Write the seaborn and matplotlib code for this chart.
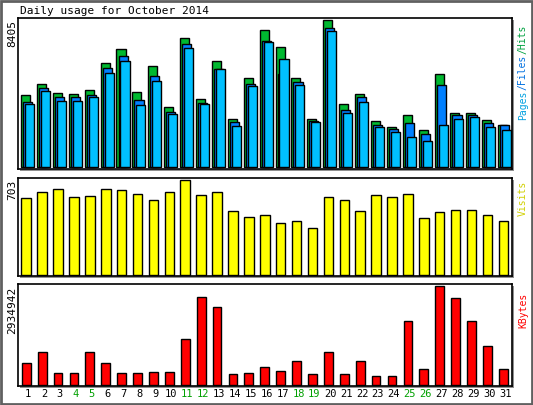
import numpy as np
import pandas as pd
import seaborn as sns
import matplotlib
matplotlib.use("Agg")
import matplotlib.pyplot as plt

days = list(range(1, 32))
hits = [4117, 4746, 4231, 4174, 4403, 5946, 6747, 4288, 5775, 3431, 7376, 3888, 6061, 2745, 5089,
        7833, 6861, 5089, 2745, 8405, 3602, 4174, 2630, 2287, 2973, 2116, 5318, 3088, 3088, 2688, 2402]
files = [3717, 4517, 4003, 4003, 4117, 5661, 6347, 3831, 5203, 3145, 7033, 3659, 5604, 2573, 4746,
         7205, 5318, 4860, 2630, 7948, 3259, 4003, 2402, 2173, 2516, 1887, 4689, 2973, 2973, 2516, 2402]
pages = [3602, 4346, 3774, 3774, 4003, 5375, 6061, 3545, 4917, 3030, 6804, 3602, 5604, 2344, 4632,
         7147, 6175, 4689, 2573, 7776, 3088, 3717, 2287, 2001, 1716, 1487, 2402, 2745, 2859, 2287, 2116]
visits = [565, 611, 634, 573, 581, 634, 627, 596, 550, 611, 703, 588, 611, 474, 428, 443, 382, 397,
          344, 573, 550, 474, 588, 573, 596, 420, 466, 481, 481, 443, 397]
kbytes = [648775, 957700, 339830, 339830, 957700, 648775, 339830, 339830, 370730, 370730, 1359340,
          2595100, 2317050, 308940, 339830, 525200, 401620, 710560, 308940, 957700, 308940, 710560,
          247150, 247150, 1884530, 463410, 2934942, 2564200, 1884530, 1143080, 463410]
weekend_days = [4, 5, 11, 12, 18, 19, 25, 26]

plt.rcParams['font.family'] = ['DejaVu Sans Mono']
fig = plt.figure(figsize=(5.33, 4.05), dpi=100)
fig.patch.set_facecolor('white')

# outer frame
fig.add_artist(plt.Rectangle((0.002, 0.002), 0.996, 0.996, transform=fig.transFigure,
                             fill=False, lw=2, ec='#606060'))

def panel(rect):
    # shadow
    fig.add_artist(plt.Rectangle((rect[0] + 0.004, rect[1] - 0.006), rect[2], rect[3],
                                 transform=fig.transFigure, fc='#909090', ec='none', zorder=0))
    ax = fig.add_axes(rect)
    ax.set_facecolor('white')
    for s in ax.spines.values():
        s.set_linewidth(1.2)
        s.set_color('black')
    ax.set_xticks([]); ax.set_yticks([])
    ax.set_xlabel(''); ax.set_ylabel('')
    return ax

xl = (0.37, 31.44)
df = pd.DataFrame({'day': days, 'hits': hits, 'files': files, 'pages': pages,
                   'visits': visits, 'kbytes': kbytes})

ax1 = panel([0.034, 0.583, 0.927, 0.373])
for col, off, c in [('hits', -0.16, '#00b830'), ('files', -0.03, '#0080ff'), ('pages', 0.09, '#00c0ff')]:
    sns.barplot(x=df['day'] + off, y=df[col], native_scale=True, width=0.57, color=c,
                saturation=1, edgecolor='black', linewidth=1, ax=ax1)
ax1.set_xlim(*xl); ax1.set_ylim(-120, 8405 * 1.015)
ax1.set_xticks([]); ax1.set_yticks([]); ax1.set_xlabel(''); ax1.set_ylabel('')

ax2 = panel([0.034, 0.319, 0.927, 0.242])
sns.barplot(x=df['day'] - 0.12, y=df['visits'], native_scale=True, width=0.6, color='#ffff00',
            saturation=1, edgecolor='black', linewidth=1, ax=ax2)
ax2.set_xlim(*xl); ax2.set_ylim(-8, 703 * 1.02)
ax2.set_xticks([]); ax2.set_yticks([]); ax2.set_xlabel(''); ax2.set_ylabel('')

ax3 = panel([0.034, 0.047, 0.927, 0.252])
sns.barplot(x=df['day'] - 0.12, y=df['kbytes'], native_scale=True, width=0.55, color='#ff0000',
            saturation=1, edgecolor='black', linewidth=1, ax=ax3)
ax3.set_xlim(*xl); ax3.set_ylim(-40000, 2934942 * 1.02)
ax3.set_xticks([]); ax3.set_yticks([]); ax3.set_xlabel(''); ax3.set_ylabel('')

for d in days:
    ax3.text(d, -0.03, str(d), transform=ax3.get_xaxis_transform(), ha='center', va='top',
             fontsize=7.5, color='#00a000' if d in weekend_days else 'black')

fig.text(20 / 533, 1 - 11 / 405, 'Daily usage for October 2014', fontsize=8, va='center')
fig.text(12 / 533, 1 - 20 / 405, '8405', rotation=90, fontsize=8, ha='center', va='top')
fig.text(12 / 533, 1 - 180 / 405, '703', rotation=90, fontsize=8, ha='center', va='top')
fig.text(12 / 533, 1 - 287 / 405, '2934942', rotation=90, fontsize=8, ha='center', va='top')

rx = 523 / 533
fig.text(rx, 1 - 120 / 405, 'Pages', rotation=90, fontsize=7, ha='center', va='bottom', color='#00a0e0')
fig.text(rx, 1 - 90 / 405, '/Files', rotation=90, fontsize=7, ha='center', va='bottom', color='#0070e0')
fig.text(rx, 1 - 54 / 405, '/Hits', rotation=90, fontsize=7, ha='center', va='bottom', color='#00a040')
fig.text(rx, 1 - 216 / 405, 'Visits', rotation=90, fontsize=7, ha='center', va='bottom', color='#d0d000')
fig.text(rx, 1 - 328 / 405, 'KBytes', rotation=90, fontsize=7, ha='center', va='bottom', color='#ff0000')

fig.savefig('out.png', dpi=100)
